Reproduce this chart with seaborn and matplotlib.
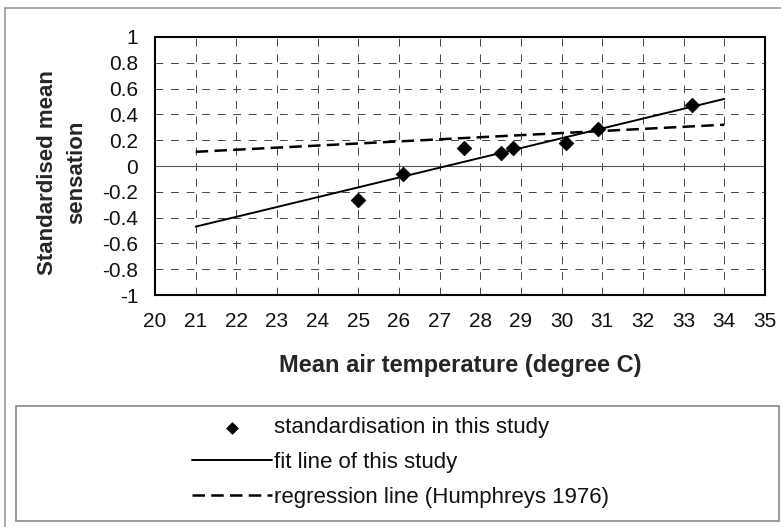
import numpy as np
import pandas as pd
import matplotlib
matplotlib.use("Agg")
import matplotlib.pyplot as plt
import seaborn as sns
from matplotlib.patches import Rectangle

# standardised mean sensation vs mean air temperature
temp = [25.0, 26.1, 27.6, 28.5, 28.8, 30.1, 30.9, 33.2]
sensation = [-0.26, -0.06, 0.14, 0.10, 0.14, 0.18, 0.285, 0.47]

# fit line of this study
fit_x = [21, 34]
fit_y = [-0.47, 0.52]

# regression line (Humphreys 1976)
humph_x = [21, 34]
humph_y = [0.11, 0.32]

x_ticks = list(range(20, 36))
y_ticks = [-1, -0.8, -0.6, -0.4, -0.2, 0, 0.2, 0.4, 0.6, 0.8, 1]
y_labels = ["-1", "-0.8", "-0.6", "-0.4", "-0.2", "0", "0.2", "0.4", "0.6", "0.8", "1"]

df = pd.DataFrame({"temp": temp, "sensation": sensation})
df_fit = pd.DataFrame({"x": fit_x, "y": fit_y})
df_hum = pd.DataFrame({"x": humph_x, "y": humph_y})

sns.set_style("white")
plt.rcParams['font.family'] = ['Liberation Sans', 'DejaVu Sans']

fig = plt.figure(figsize=(7.81, 5.27), dpi=100)
ax = fig.add_axes([0.1985, 0.4402, 0.781, 0.4896])

sns.lineplot(x="x", y="y", data=df_fit, color="black", linewidth=1.4,
             label="fit line of this study", ax=ax)
sns.lineplot(x="x", y="y", data=df_hum, color="black", linewidth=1.8,
             label="regression line (Humphreys 1976)", ax=ax)
ax.lines[-1].set_dashes((5, 2.5))
sns.scatterplot(x="temp", y="sensation", data=df, marker="D", s=55,
                color="black", edgecolor="black", zorder=5,
                label="standardisation in this study", ax=ax)

ax.axhline(0, color="#555555", linewidth=0.8, zorder=1)

ax.set_xlim(20, 35)
ax.set_ylim(-1, 1)
ax.set_xticks(x_ticks)
ax.set_yticks(y_ticks)
ax.set_yticklabels(y_labels)
ax.tick_params(axis="both", length=0, labelsize=15, pad=12, colors="#111111")
ax.grid(True, color="#444444", linewidth=0.7, linestyle=(0, (8, 8)))
ax.set_axisbelow(True)
for sp in ax.spines.values():
    sp.set_visible(True)
    sp.set_color("black")
    sp.set_linewidth(1.5)

ax.set_xlabel("Mean air temperature (degree C)", fontsize=17, fontweight="bold")
ax.set_ylabel("Standardised mean\nsensation", fontsize=16, fontweight="bold",
              linespacing=1.55)
ax.xaxis.set_label_coords(0.5, -0.228)
ax.yaxis.set_label_coords(-0.111, 0.475)

# legend below the plot
handles, labels = ax.get_legend_handles_labels()
ax.get_legend().remove()
order = [2, 0, 1]
handles = [handles[i] for i in order]
labels = [labels[i] for i in order]
leg = fig.legend(handles, labels, loc="upper left", bbox_to_anchor=(0.2458, 0.208),
                 frameon=False, fontsize=16, handlelength=3.6, handletextpad=0.1,
                 labelspacing=0.62, borderpad=0, borderaxespad=0, markerscale=0.8)
for t in leg.get_texts():
    t.set_color("#111111")

fig.patches.append(Rectangle((0.0211, 0.012), 0.9763, 0.2177, transform=fig.transFigure,
                             fill=False, edgecolor="#888888", linewidth=1.2))
fig.patches.append(Rectangle((0.0064, -0.05), 1.1, 1.0348, transform=fig.transFigure,
                             fill=False, edgecolor="#999999", linewidth=1.2))

plt.savefig("out.png", dpi=100)
